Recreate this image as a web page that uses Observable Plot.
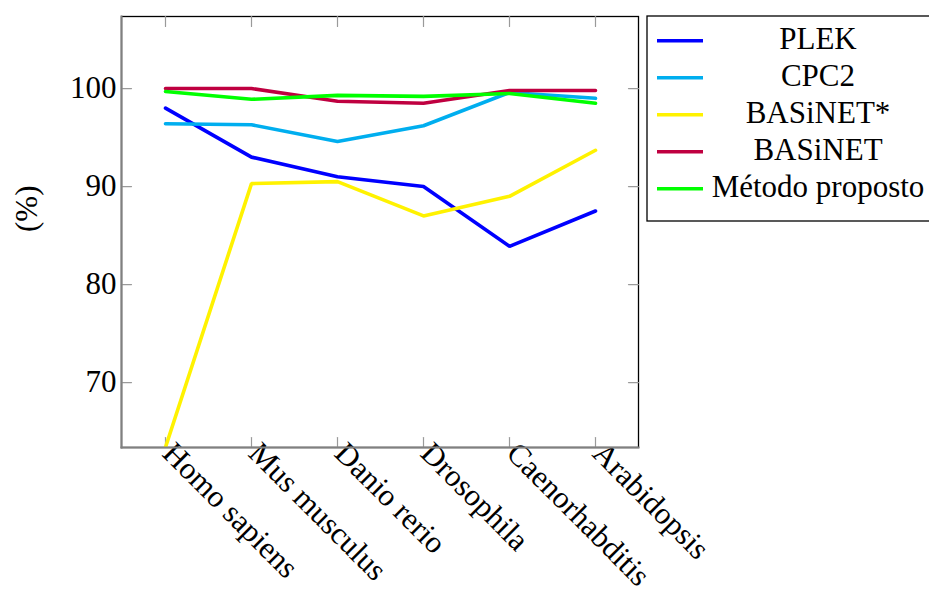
<!DOCTYPE html>
<html>
<head>
<meta charset="utf-8">
<script src="https://cdn.jsdelivr.net/npm/d3@7"></script>
<script src="https://cdn.jsdelivr.net/npm/@observablehq/plot@0.6"></script>
<style>
  html, body { margin: 0; padding: 0; background: #fff; }
  #chart { position: relative; width: 929px; height: 590px; overflow: hidden; }
</style>
</head>
<body>
<div id="chart"></div>
<script>
const categories = ["Homo sapiens", "Mus musculus", "Danio rerio", "Drosophila", "Caenorhabditis", "Arabidopsis"];
const seriesNames = ["PLEK", "CPC2", "BASiNET*", "BASiNET", "Método proposto"];
const seriesColors = ["#0000ff", "#00aeef", "#fff200", "#bf0040", "#00ff00"];
const plek = [98.0, 93.0, 91.0, 90.0, 83.9, 87.5];
const cpc2 = [96.4, 96.3, 94.6, 96.2, 99.6, 99.0];
const basinetStar = [63.4, 90.3, 90.5, 87.0, 89.0, 93.7];
const basinet = [100.0, 100.0, 98.7, 98.5, 99.8, 99.8];
const metodo = [99.7, 98.9, 99.3, 99.2, 99.5, 98.5];
const yTicks = [70, 80, 90, 100];
const yDomain = [63.37, 107.35];

const seriesValues = [plek, cpc2, basinetStar, basinet, metodo];
const rows = [];
seriesNames.forEach((name, i) => {
  categories.forEach((c, j) => rows.push({series: name, category: c, value: seriesValues[i][j]}));
});

const font = "'Liberation Serif', 'Times New Roman', serif";
const tickShape = {draw(context, l) { context.moveTo(0, 0); context.lineTo(0, -l); }};
const tickColor = "#9a9a9a";

const chart = Plot.plot({
  width: 929,
  height: 590,
  marginLeft: 121,
  marginRight: 291,
  marginTop: 16,
  marginBottom: 143,
  style: {fontFamily: font, fontSize: "31px", background: "white", color: "black"},
  x: {type: "point", domain: categories, padding: 0.5},
  y: {domain: yDomain},
  color: {domain: seriesNames, range: seriesColors},
  marks: [
    Plot.frame({stroke: "black", strokeWidth: 1.3}),
    Plot.vector(yTicks, {y: d => d, frameAnchor: "left", length: 10, rotate: 90, anchor: "start", shape: tickShape, stroke: tickColor, strokeWidth: 1.2}),
    Plot.vector(yTicks, {y: d => d, frameAnchor: "right", length: 10, rotate: 270, anchor: "start", shape: tickShape, stroke: tickColor, strokeWidth: 1.2}),
    Plot.vector(categories, {x: d => d, frameAnchor: "top", length: 10, rotate: 180, anchor: "start", shape: tickShape, stroke: tickColor, strokeWidth: 1.2}),
    Plot.vector(categories, {x: d => d, frameAnchor: "bottom", length: 10, rotate: 0, anchor: "start", shape: tickShape, stroke: tickColor, strokeWidth: 1.2}),
    Plot.axisY({ticks: yTicks, tickSize: 0, tickPadding: 5, label: null, fontSize: 31}),
    Plot.axisX({tickSize: 0, tickRotate: 45, textAnchor: "start", lineAnchor: "top", tickPadding: 0, dx: 11, dy: -8, label: null, fontSize: 31}),
    Plot.text(["(%)"], {frameAnchor: "left", dx: -94, rotate: -90, fontSize: 31, text: d => d}),
    Plot.lineY(rows, {x: "category", y: "value", z: "series", stroke: "series", strokeWidth: 3.6, strokeLinejoin: "miter", clip: true}),
    Plot.frame({anchor: "left", stroke: "#808080", strokeWidth: 2}),
    Plot.frame({anchor: "bottom", stroke: "#808080", strokeWidth: 2})
  ]
});

document.getElementById("chart").appendChild(chart);

// Legend (drawn into the same SVG)
const svg = d3.select(chart);
const lg = svg.append("g").attr("class", "legend");
lg.append("rect")
  .attr("x", 647).attr("y", 16).attr("width", 300).attr("height", 205)
  .attr("fill", "white").attr("stroke", "black").attr("stroke-width", 1.3);
seriesNames.forEach((name, i) => {
  const yy = 40.7 + 37 * i;
  lg.append("line")
    .attr("x1", 657).attr("x2", 703).attr("y1", yy).attr("y2", yy)
    .attr("stroke", seriesColors[i]).attr("stroke-width", 3.6);
  lg.append("text")
    .attr("x", 818).attr("y", yy + 8)
    .attr("text-anchor", "middle")
    .style("font-family", font)
    .style("font-size", "31px")
    .attr("fill", "black")
    .text(name);
});
</script>
</body>
</html>
